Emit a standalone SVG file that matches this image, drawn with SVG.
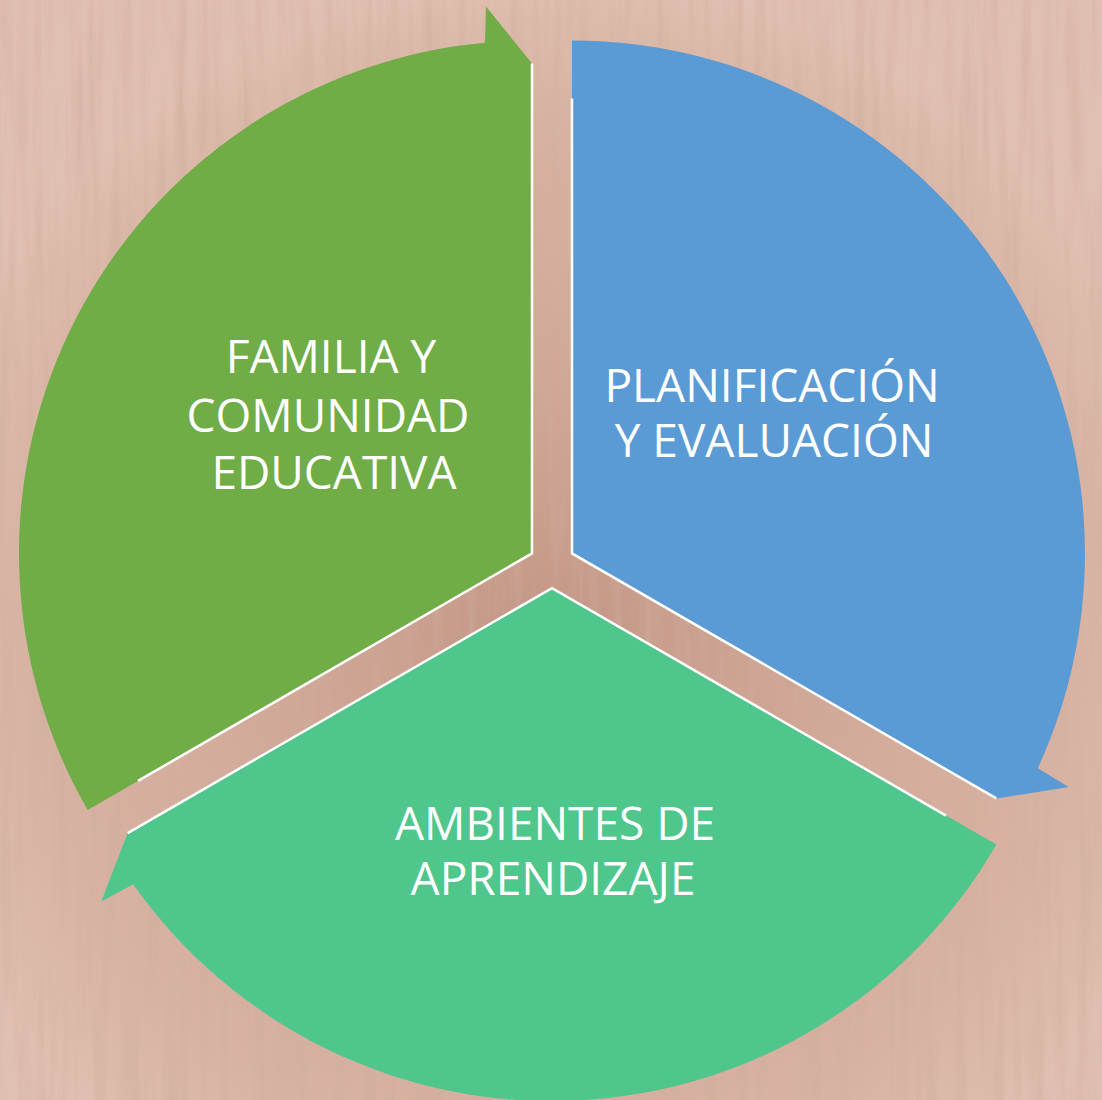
<svg xmlns="http://www.w3.org/2000/svg" width="1102" height="1100" viewBox="0 0 1102 1100">
  <defs>
    <filter id="grain" x="0" y="0" width="1102" height="1100" filterUnits="userSpaceOnUse">
      <feTurbulence type="fractalNoise" baseFrequency="0.09 0.005" numOctaves="3" seed="7" result="n"/>
      <feColorMatrix in="n" type="matrix" values="0 0 0 0 0.62  0 0 0 0 0.42  0 0 0 0 0.34  2.2 0 0 0 -0.95"/>
    </filter>
    <radialGradient id="shade" cx="552" cy="640" r="660" gradientUnits="userSpaceOnUse">
      <stop offset="0" stop-color="#a8705c" stop-opacity="0.45"/>
      <stop offset="0.6" stop-color="#b88470" stop-opacity="0.12"/>
      <stop offset="1" stop-color="#f0dccf" stop-opacity="0.3"/>
    </radialGradient>
    <path id="seg" d="M 0,0 L 0,-490 L -46,-547 L -47,-510.8 A 513 513 0 0 0 -444.3,256.5 Z"/>
    <path id="edge" d="M 0,-490 L 0,0 L -394,227.5"/>
  </defs>
  <style>
    .edge { fill: none; stroke: #ffffff; stroke-width: 2.5; stroke-linejoin: miter; }
    .label { font-family: "Open Sans", "Liberation Sans", sans-serif; font-size: 46px; fill: #ffffff; text-anchor: middle; }
  </style>

  <rect x="0" y="0" width="1102" height="1100" fill="#d9b4a4"/>
  <rect x="0" y="0" width="1102" height="1100" fill="url(#shade)"/>
  <rect x="0" y="0" width="1102" height="1100" filter="url(#grain)" opacity="0.55"/>

  <g id="connectors"/>

  <g id="node-familia">
    <use href="#seg" fill="#70ad47" transform="translate(552 565) translate(-20 -11.55)"/>
    <use href="#edge" class="edge" transform="translate(552 565) translate(-20 -11.55)"/>
    <text class="label" x="331" y="373">FAMILIA Y</text>
    <text class="label" x="328" y="432">COMUNIDAD</text>
    <text class="label" x="334" y="489">EDUCATIVA</text>
  </g>

  <g id="node-planificacion">
    <use href="#seg" fill="#5b9bd5" transform="translate(552 565) rotate(120) translate(-20 -11.55)"/>
    <use href="#edge" class="edge" transform="translate(552 565) rotate(120) translate(-20 -11.55)"/>
    <text class="label" x="772" y="402">PLANIFICACIÓN</text>
    <text class="label" x="774" y="457">Y EVALUACIÓN</text>
  </g>

  <g id="node-ambientes">
    <use href="#seg" fill="#4ec68c" transform="translate(552 565) rotate(240) translate(-20 -11.55)"/>
    <use href="#edge" class="edge" transform="translate(552 565) rotate(240) translate(-20 -11.55)"/>
    <text class="label" x="555" y="840">AMBIENTES DE</text>
    <text class="label" x="553" y="895">APRENDIZAJE</text>
  </g>
</svg>
